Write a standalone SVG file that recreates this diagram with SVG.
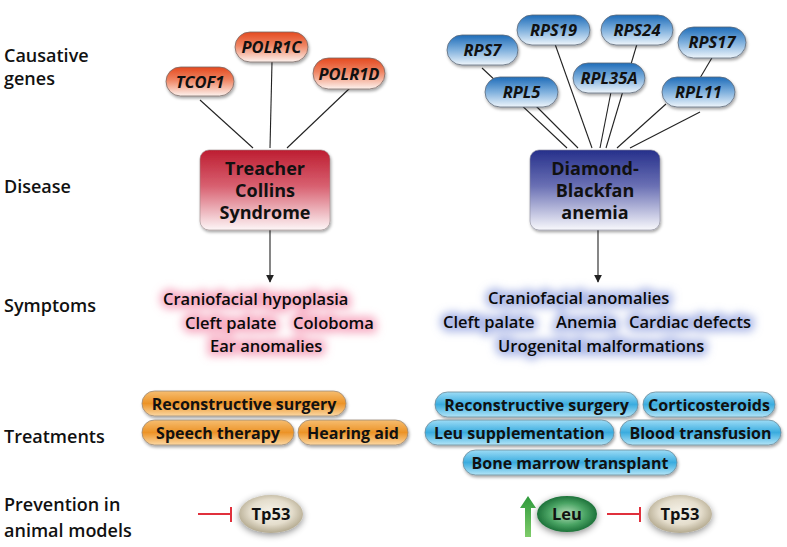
<svg xmlns="http://www.w3.org/2000/svg" width="787" height="547" viewBox="0 0 787 547">
<defs>
<linearGradient id="gOr" x1="0" y1="0" x2="0" y2="1"><stop offset="0" stop-color="#e4491f"/><stop offset="0.45" stop-color="#ef8563"/><stop offset="1" stop-color="#fdf2ee"/></linearGradient>
<linearGradient id="gBl" x1="0" y1="0" x2="0" y2="1"><stop offset="0" stop-color="#1f6db9"/><stop offset="0.5" stop-color="#7fb0dd"/><stop offset="1" stop-color="#eef5fb"/></linearGradient>
<linearGradient id="gTcs" x1="0" y1="0" x2="0" y2="1"><stop offset="0" stop-color="#bd1d31"/><stop offset="0.45" stop-color="#d86070"/><stop offset="1" stop-color="#fdf6f7"/></linearGradient>
<linearGradient id="gDba" x1="0" y1="0" x2="0" y2="1"><stop offset="0" stop-color="#26308b"/><stop offset="0.45" stop-color="#6a70b4"/><stop offset="1" stop-color="#f8f8fc"/></linearGradient>
<linearGradient id="gOp" x1="0" y1="0" x2="0" y2="1"><stop offset="0" stop-color="#f6bd70"/><stop offset="0.5" stop-color="#ec9327"/><stop offset="1" stop-color="#fbd7a2"/></linearGradient>
<linearGradient id="gBp" x1="0" y1="0" x2="0" y2="1"><stop offset="0" stop-color="#9ddcf6"/><stop offset="0.5" stop-color="#3aacdf"/><stop offset="1" stop-color="#b2e4f7"/></linearGradient>
<radialGradient id="gTp" cx="0.5" cy="0.45" r="0.55"><stop offset="0" stop-color="#f6f3ea"/><stop offset="0.6" stop-color="#e4ddcc"/><stop offset="1" stop-color="#b3a98f"/></radialGradient>
<radialGradient id="gLeu" cx="0.5" cy="0.5" r="0.55"><stop offset="0" stop-color="#b8e0bc"/><stop offset="0.55" stop-color="#4aa464"/><stop offset="1" stop-color="#136630"/></radialGradient>
<linearGradient id="gArr" x1="0" y1="0" x2="0" y2="1"><stop offset="0" stop-color="#2e9a3c"/><stop offset="1" stop-color="#7fcc6a"/></linearGradient>
<filter id="sh" x="-20%" y="-30%" width="140%" height="170%"><feDropShadow dx="1" dy="2" stdDeviation="1.5" flood-color="#000" flood-opacity="0.35"/></filter>
<filter id="shE" x="-40%" y="-50%" width="180%" height="200%"><feDropShadow dx="0" dy="2" stdDeviation="3.5" flood-color="#000" flood-opacity="0.45"/></filter>
<filter id="glow" x="-10%" y="-40%" width="120%" height="180%"><feGaussianBlur stdDeviation="4"/></filter>
<marker id="ah" viewBox="0 0 10 10" refX="9" refY="5" markerWidth="8" markerHeight="8" markerUnits="userSpaceOnUse" orient="auto"><path d="M0,0 L10,5 L0,10 z" fill="#222"/></marker>
<style>
.lbl{font-family:"Open Sans","Liberation Sans",sans-serif;font-weight:600;font-size:18px;fill:#111}
.gene{font-family:"Open Sans","Liberation Sans",sans-serif;font-weight:700;font-style:italic;font-size:16.5px;fill:#111;text-anchor:middle}
.box{font-family:"Open Sans","Liberation Sans",sans-serif;font-weight:700;font-size:18px;fill:#111;text-anchor:middle}
.sym{font-family:"Open Sans","Liberation Sans",sans-serif;font-weight:600;font-size:16.5px;fill:#0a0a0a}
.tr{font-family:"Open Sans","Liberation Sans",sans-serif;font-weight:700;font-size:16px;fill:#111;text-anchor:middle}
.el{font-family:"Open Sans","Liberation Sans",sans-serif;font-weight:700;font-size:16.5px;fill:#111;text-anchor:middle}
.pk{stroke:#f48aaa;stroke-width:8;fill:#f48aaa;opacity:0.7}
.bg{stroke:#8e9ede;stroke-width:8;fill:#8e9ede;opacity:0.7}
.ln{stroke:#222;stroke-width:1.1;fill:none}
.gpO{fill:url(#gOr);stroke:#7a6a66;stroke-width:0.8}
.gpB{fill:url(#gBl);stroke:#5e6a78;stroke-width:0.8}
.pO{fill:url(#gOp);stroke:#9a8a78;stroke-width:0.8}
.pB{fill:url(#gBp);stroke:#6d8a98;stroke-width:0.8}
.inh{stroke:#e0303c;stroke-width:2;fill:none}
</style>
</defs>
<rect width="787" height="547" fill="#fff"/>

<g id="row-labels">
<text class="lbl" x="4" y="62">Causative</text>
<text class="lbl" x="4" y="85">genes</text>
<text class="lbl" x="4" y="193">Disease</text>
<text class="lbl" x="4" y="312">Symptoms</text>
<text class="lbl" x="4" y="443">Treatments</text>
<text class="lbl" x="4" y="511">Prevention in</text>
<text class="lbl" x="4" y="537">animal models</text>
</g>

<g id="connectors">
<line class="ln" x1="200" y1="100" x2="253" y2="148"/>
<line class="ln" x1="272" y1="62" x2="270" y2="148"/>
<line class="ln" x1="350" y1="88" x2="287" y2="148"/>
<line class="ln" x1="482" y1="68" x2="567" y2="148"/>
<line class="ln" x1="535" y1="105" x2="578" y2="148"/>
<line class="ln" x1="555" y1="44" x2="592" y2="148"/>
<line class="ln" x1="637" y1="44" x2="606" y2="148"/>
<line class="ln" x1="611" y1="92" x2="600" y2="148"/>
<line class="ln" x1="713" y1="56" x2="700" y2="78"/>
<line class="ln" x1="666" y1="104" x2="617" y2="148"/>
<line class="ln" x1="700" y1="112" x2="630" y2="148"/>
<line class="ln" x1="270" y1="230" x2="270" y2="282" marker-end="url(#ah)"/>
<line class="ln" x1="598" y1="230" x2="598" y2="282" marker-end="url(#ah)"/>
<line class="inh" x1="198" y1="514" x2="231" y2="514"/>
<line class="inh" x1="231" y1="507" x2="231" y2="522"/>
<line class="inh" x1="607" y1="514" x2="640" y2="514"/>
<line class="inh" x1="640" y1="507" x2="640" y2="522"/>
<path d="M528,496 L536,508 L531,508 L531,537 L525,537 L525,508 L520,508 Z" fill="url(#gArr)"/>
</g>

<g id="gene-TCOF1"><rect class="gpO" x="166" y="67" width="68" height="29" rx="14.5" filter="url(#sh)"/><text class="gene" x="200" y="87.5">TCOF1</text></g>
<g id="gene-POLR1C"><rect class="gpO" x="235" y="32" width="73" height="30" rx="15" filter="url(#sh)"/><text class="gene" x="271.5" y="53">POLR1C</text></g>
<g id="gene-POLR1D"><rect class="gpO" x="313" y="58" width="72" height="31" rx="15.5" filter="url(#sh)"/><text class="gene" x="349" y="79.5">POLR1D</text></g>

<g id="gene-RPS7"><rect class="gpB" x="447" y="35" width="71" height="30" rx="15" filter="url(#sh)"/><text class="gene" x="482.5" y="56">RPS7</text></g>
<g id="gene-RPS19"><rect class="gpB" x="517" y="15" width="73" height="30" rx="15" filter="url(#sh)"/><text class="gene" x="553.5" y="36">RPS19</text></g>
<g id="gene-RPS24"><rect class="gpB" x="601" y="15" width="72" height="30" rx="15" filter="url(#sh)"/><text class="gene" x="637" y="36">RPS24</text></g>
<g id="gene-RPS17"><rect class="gpB" x="678" y="27" width="68" height="31" rx="15.5" filter="url(#sh)"/><text class="gene" x="712" y="48">RPS17</text></g>
<g id="gene-RPL35A"><rect class="gpB" x="573" y="63" width="72" height="30" rx="15" filter="url(#sh)"/><text class="gene" x="609" y="84">RPL35A</text></g>
<g id="gene-RPL5"><rect class="gpB" x="485" y="77" width="73" height="30" rx="15" filter="url(#sh)"/><text class="gene" x="521.5" y="98">RPL5</text></g>
<g id="gene-RPL11"><rect class="gpB" x="662" y="77" width="73" height="30" rx="15" filter="url(#sh)"/><text class="gene" x="698.5" y="98">RPL11</text></g>

<g id="disease-TCS"><rect x="200" y="150" width="130" height="80" rx="9" fill="url(#gTcs)" stroke="#9a8a8c" stroke-width="0.6" filter="url(#sh)"/>
<text class="box" x="265" y="175">Treacher</text><text class="box" x="265" y="197">Collins</text><text class="box" x="265" y="219">Syndrome</text></g>
<g id="disease-DBA"><rect x="530" y="150" width="130" height="80" rx="9" fill="url(#gDba)" stroke="#8a8a9a" stroke-width="0.6" filter="url(#sh)"/>
<text class="box" x="595" y="175">Diamond-</text><text class="box" x="595" y="197">Blackfan</text><text class="box" x="595" y="219">anemia</text></g>

<g id="symptoms-TCS">
<g filter="url(#glow)">
<text class="sym pk" x="163" y="305">Craniofacial hypoplasia</text>
<text class="sym pk" x="185" y="329">Cleft palate</text><text class="sym pk" x="293" y="329">Coloboma</text>
<text class="sym pk" x="210" y="352">Ear anomalies</text>
</g>
<text class="sym" x="163" y="305">Craniofacial hypoplasia</text>
<text class="sym" x="185" y="329">Cleft palate</text><text class="sym" x="293" y="329">Coloboma</text>
<text class="sym" x="210" y="352">Ear anomalies</text>
</g>
<g id="symptoms-DBA">
<g filter="url(#glow)">
<text class="sym bg" x="488" y="304">Craniofacial anomalies</text>
<text class="sym bg" x="443" y="328">Cleft palate</text><text class="sym bg" x="556" y="328">Anemia</text><text class="sym bg" x="629" y="328">Cardiac defects</text>
<text class="sym bg" x="498" y="352">Urogenital malformations</text>
</g>
<text class="sym" x="488" y="304">Craniofacial anomalies</text>
<text class="sym" x="443" y="328">Cleft palate</text><text class="sym" x="556" y="328">Anemia</text><text class="sym" x="629" y="328">Cardiac defects</text>
<text class="sym" x="498" y="352">Urogenital malformations</text>
</g>

<g id="tr-TCS-reconstructive"><rect class="pO" x="142" y="391" width="204" height="25" rx="12.5" filter="url(#sh)"/><text class="tr" x="244" y="409.5">Reconstructive surgery</text></g>
<g id="tr-TCS-speech"><rect class="pO" x="142" y="420" width="152" height="25" rx="12.5" filter="url(#sh)"/><text class="tr" x="218" y="438.5">Speech therapy</text></g>
<g id="tr-TCS-hearing"><rect class="pO" x="298" y="420" width="110" height="25" rx="12.5" filter="url(#sh)"/><text class="tr" x="353" y="438.5">Hearing aid</text></g>

<g id="tr-DBA-reconstructive"><rect class="pB" x="435" y="392" width="203" height="25" rx="12.5" filter="url(#sh)"/><text class="tr" x="536.5" y="410.5">Reconstructive surgery</text></g>
<g id="tr-DBA-cortico"><rect class="pB" x="643" y="392" width="132" height="25" rx="12.5" filter="url(#sh)"/><text class="tr" x="709" y="410.5">Corticosteroids</text></g>
<g id="tr-DBA-leu"><rect class="pB" x="425" y="420" width="189" height="25" rx="12.5" filter="url(#sh)"/><text class="tr" x="519.5" y="438.5">Leu supplementation</text></g>
<g id="tr-DBA-blood"><rect class="pB" x="620" y="420" width="161" height="25" rx="12.5" filter="url(#sh)"/><text class="tr" x="700.5" y="438.5">Blood transfusion</text></g>
<g id="tr-DBA-bone"><rect class="pB" x="463" y="450" width="214" height="25" rx="12.5" filter="url(#sh)"/><text class="tr" x="570" y="468.5">Bone marrow transplant</text></g>

<g id="prev-TCS-Tp53"><ellipse cx="271" cy="514" rx="32" ry="19" fill="url(#gTp)" filter="url(#shE)"/><text class="el" x="271" y="520">Tp53</text></g>
<g id="prev-DBA-Leu"><ellipse cx="567" cy="514" rx="30" ry="18" fill="url(#gLeu)" filter="url(#shE)"/><text class="el" x="567" y="520">Leu</text></g>
<g id="prev-DBA-Tp53"><ellipse cx="680" cy="514" rx="32" ry="19" fill="url(#gTp)" filter="url(#shE)"/><text class="el" x="680" y="520">Tp53</text></g>
</svg>
